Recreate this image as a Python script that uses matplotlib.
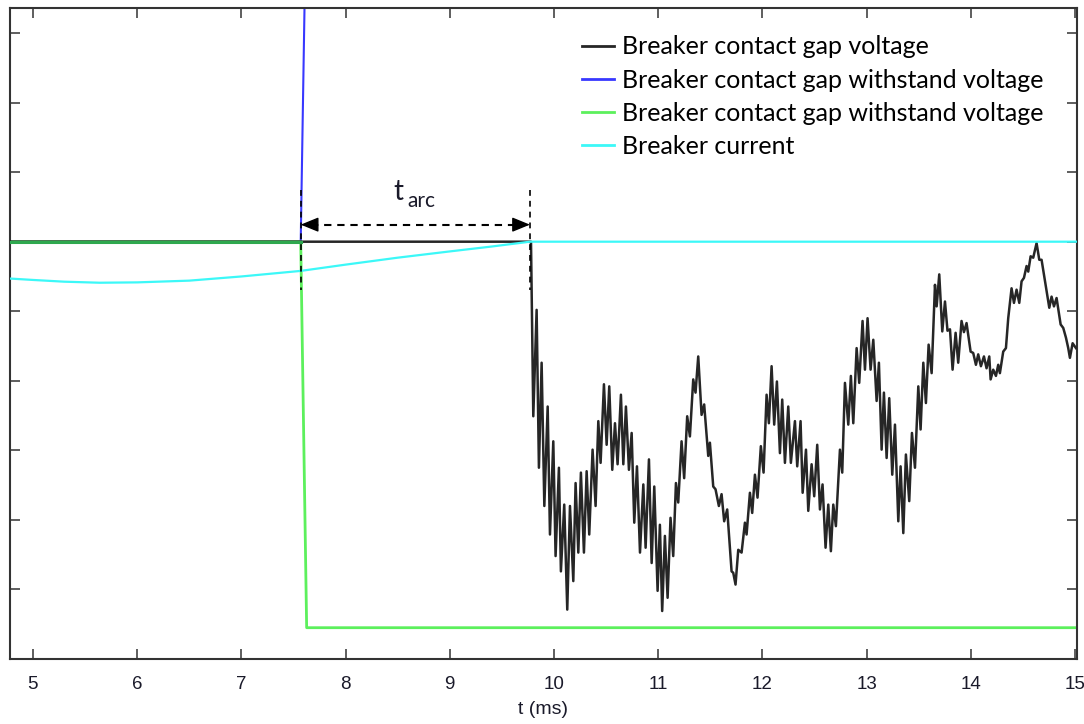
import matplotlib
matplotlib.use("Agg")
import matplotlib.pyplot as plt
import numpy as np

# ---- data ----
t_sep = 7.57      # contact separation (ms)
t_ext = 9.77      # arc extinction (ms)
x_min, x_max = 4.78, 15.02
y_min, y_max = -6.0, 3.36

x_ticks = [5, 6, 7, 8, 9, 10, 11, 12, 13, 14, 15]
y_ticks = [-6, -5, -4, -3, -2, -1, 0, 1, 2, 3]

labels = ["Breaker contact gap voltage",
          "Breaker contact gap withstand voltage",
          "Breaker contact gap withstand voltage",
          "Breaker current"]

# breaker contact gap voltage (t in ms, value)
gap_voltage = [
    (4.78, 0.0), (9.77, 0.0), (9.780, 0.0), (9.802, -2.51), (9.834, -0.98), (9.856, -3.25),
    (9.882, -1.74), (9.908, -3.80), (9.940, -2.37), (9.962, -4.21), (9.994, -2.87),
    (10.016, -4.52), (10.048, -3.25), (10.067, -4.74), (10.099, -3.78), (10.128, -5.29),
    (10.154, -3.80), (10.186, -4.88), (10.208, -3.47), (10.234, -4.47), (10.259, -3.32),
    (10.288, -4.47), (10.314, -3.30), (10.339, -4.21), (10.371, -2.99), (10.400, -3.80),
    (10.426, -2.58), (10.448, -3.18), (10.480, -2.05), (10.506, -2.92), (10.531, -2.08),
    (10.560, -3.28), (10.586, -2.61), (10.611, -3.20), (10.643, -2.20), (10.666, -3.20),
    (10.691, -2.37), (10.720, -3.28), (10.746, -2.75), (10.771, -4.04), (10.797, -3.23),
    (10.826, -4.47), (10.858, -3.49), (10.880, -4.40), (10.912, -3.13), (10.938, -4.62),
    (10.963, -3.52), (10.995, -5.02), (11.017, -4.07), (11.039, -5.31), (11.065, -4.23),
    (11.091, -5.12), (11.119, -3.97), (11.145, -4.52), (11.171, -3.47), (11.193, -3.75),
    (11.225, -2.87), (11.250, -3.40), (11.279, -2.51), (11.305, -2.80), (11.337, -1.98),
    (11.359, -2.17), (11.385, -1.65), (11.417, -2.49), (11.442, -2.34), (11.481, -3.08),
    (11.497, -2.89), (11.529, -3.52), (11.551, -3.56), (11.583, -3.80), (11.609, -3.63),
    (11.634, -4.02), (11.663, -3.85), (11.705, -4.74), (11.721, -4.76), (11.743, -4.93),
    (11.769, -4.43), (11.801, -4.47), (11.833, -4.04), (11.849, -4.21), (11.881, -3.61),
    (11.903, -3.90), (11.929, -3.35), (11.954, -3.68), (11.986, -2.94), (12.012, -3.32),
    (12.041, -2.20), (12.063, -2.61), (12.089, -1.79), (12.114, -2.63), (12.140, -2.01),
    (12.169, -3.04), (12.191, -2.27), (12.217, -3.18), (12.249, -2.37), (12.274, -3.18),
    (12.313, -2.58), (12.335, -3.23), (12.367, -2.58), (12.387, -3.61), (12.419, -2.99),
    (12.441, -3.87), (12.473, -3.20), (12.498, -3.66), (12.527, -2.92), (12.553, -3.85),
    (12.578, -3.49), (12.607, -4.40), (12.633, -3.78), (12.658, -4.45), (12.681, -3.78),
    (12.706, -4.09), (12.745, -2.99), (12.767, -3.32), (12.793, -2.03), (12.825, -2.63),
    (12.850, -1.93), (12.873, -2.61), (12.905, -1.53), (12.930, -2.03), (12.962, -1.14),
    (12.985, -1.84), (13.010, -1.10), (13.039, -1.84), (13.065, -1.41), (13.097, -2.29),
    (13.119, -1.74), (13.145, -2.99), (13.167, -2.17), (13.193, -3.11), (13.218, -2.25),
    (13.247, -3.35), (13.273, -2.63), (13.305, -4.02), (13.327, -3.23), (13.353, -4.19),
    (13.378, -3.06), (13.410, -3.73), (13.436, -2.75), (13.465, -3.25), (13.497, -2.08),
    (13.519, -2.70), (13.545, -1.74), (13.570, -2.32), (13.596, -1.48), (13.625, -1.89),
    (13.657, -0.62), (13.673, -0.93), (13.698, -0.47), (13.727, -1.29), (13.753, -0.86),
    (13.777, -1.28), (13.801, -1.26), (13.826, -1.84), (13.855, -1.31), (13.880, -1.74),
    (13.912, -1.14), (13.935, -1.30), (13.960, -1.17), (13.999, -1.58), (14.024, -1.60),
    (14.050, -1.77), (14.072, -1.62), (14.098, -1.79), (14.127, -1.65), (14.152, -1.82),
    (14.178, -1.65), (14.191, -1.98), (14.216, -1.84), (14.242, -1.93), (14.264, -1.77),
    (14.280, -1.89), (14.312, -1.58), (14.338, -1.53), (14.360, -1.10), (14.392, -0.67),
    (14.415, -0.88), (14.440, -0.69), (14.466, -0.88), (14.488, -0.57), (14.511, -0.52),
    (14.536, -0.35), (14.552, -0.43), (14.575, -0.21), (14.600, -0.23), (14.632, -0.02),
    (14.658, -0.26), (14.680, -0.26), (14.719, -0.62), (14.754, -0.95), (14.776, -0.79),
    (14.799, -0.93), (14.824, -0.81), (14.863, -1.19), (14.888, -1.24), (14.914, -1.38),
    (14.936, -1.53), (14.952, -1.67), (14.978, -1.46), (15.010, -1.53),
]

withstand_pos_t = [4.78, 7.57, 7.63, 15.02]
withstand_pos_v = [0.0, 0.0, 5.55, 5.55]
withstand_neg_t = [4.78, 7.57, 7.627, 15.02]
withstand_neg_v = [0.0, 0.0, -5.55, -5.55]

current_t = [4.78, 5.0, 5.3, 5.64, 6.0, 6.5, 7.0, 7.57, 8.0, 8.5, 9.0, 9.4, 9.77, 15.02]
current_v = [-0.53, -0.55, -0.575, -0.59, -0.585, -0.56, -0.50, -0.42, -0.33, -0.23, -0.14, -0.07, 0.0, 0.0]

# ---- figure ----
plt.rcParams['font.family'] = ['Liberation Sans', 'DejaVu Sans']
fig = plt.figure(figsize=(10.84, 7.24), dpi=100)
ax = fig.add_axes([10/1084, 65/724, 1067/1084, 651/724])

gv_t = [p[0] for p in gap_voltage]
gv_v = [p[1] for p in gap_voltage]

c_black = '#262626'
c_blue = '#3838ff'
c_green = '#5cf05c'
c_cyan = '#3cf8f8'

ax.plot(gv_t, gv_v, color=c_black, lw=1.8, label=labels[0], zorder=3)
ax.plot(withstand_pos_t, withstand_pos_v, color=c_blue, lw=1.5, label=labels[1], zorder=2)
ax.plot(withstand_neg_t, withstand_neg_v, color=c_green, lw=2.0, label=labels[2], zorder=2)
# overlapping zero segment before separation (rendered darker where traces overlap)
ax.plot(withstand_neg_t[:2], withstand_neg_v[:2], color='#2ea84e', lw=2.2, zorder=4)
ax.plot(current_t, current_v, color=c_cyan, lw=1.6, label=labels[3], zorder=5)

# t_arc annotation
for xv in (t_sep, t_ext):
    ax.plot([xv, xv], [0.75, -0.70], color='black', lw=1.2, ls=(0, (3.5, 3)), zorder=6)
y_arr = 0.245
ax.plot([t_sep + 0.1, t_ext - 0.1], [y_arr, y_arr], color='black', lw=1.5,
        ls=(0, (3.5, 2.8)), zorder=6)
ax.annotate('', xy=(t_sep, y_arr), xytext=(t_sep + 0.16, y_arr),
            arrowprops=dict(arrowstyle='-|>,head_length=1.1,head_width=0.45',
                            color='black', lw=1, mutation_scale=10,
                            shrinkA=0, shrinkB=0), zorder=7)
ax.annotate('', xy=(t_ext, y_arr), xytext=(t_ext - 0.16, y_arr),
            arrowprops=dict(arrowstyle='-|>,head_length=1.1,head_width=0.45',
                            color='black', lw=1, mutation_scale=10,
                            shrinkA=0, shrinkB=0), zorder=7)
ax.text(8.455, 0.60, 't', fontsize=20, family='Lato', color='#1a1a2a',
        ha='left', va='baseline')
ax.text(8.59, 0.50, 'arc', fontsize=15, family='Lato', color='#1a1a2a',
        ha='left', va='baseline')

ax.set_xlim(x_min, x_max)
ax.set_ylim(y_min, y_max)
ax.set_xticks(x_ticks)
ax.set_yticks(y_ticks)
ax.set_yticklabels([])
ax.tick_params(axis='both', which='both', direction='in', length=7, width=1.1,
               color='#333333', top=True, right=True)
ax.tick_params(axis='x', labelsize=13.5, pad=12, labelcolor='#1a1a2a')
for s in ax.spines.values():
    s.set_linewidth(1.5)
    s.set_color('#333333')
ax.set_xlabel('t (ms)', fontsize=14, labelpad=6, color='#1a1a2a')

leg = ax.legend(loc='upper left', bbox_to_anchor=(0.536, 0.958), frameon=False,
                prop={'family': 'Lato', 'size': 18}, handlelength=1.28,
                handletextpad=0.32, labelspacing=0.41, borderpad=0, borderaxespad=0)
for h in leg.get_lines():
    h.set_linewidth(2.0)

fig.savefig('out.png', dpi=100)
